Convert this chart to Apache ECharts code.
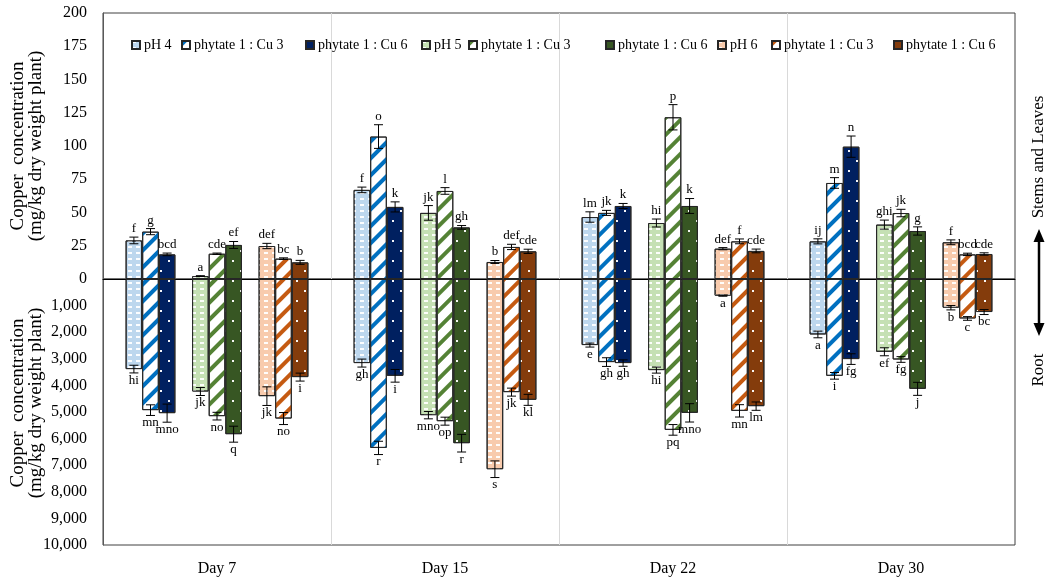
<!DOCTYPE html>
<html>
<head>
<meta charset="utf-8">
<script src="https://cdn.jsdelivr.net/npm/echarts@6/dist/echarts.min.js"></script>
<style>
  html, body { margin: 0; padding: 0; background: #fff; }
  #chart { width: 1049px; height: 584px; }
</style>
</head>
<body>
<div id="chart"></div>
<script>
// ---- data -------------------------------------------------------------
const days = ['Day 7', 'Day 15', 'Day 22', 'Day 30'];
const treatments = ['pH 4', 'phytate 1 : Cu 3', 'phytate 1 : Cu 6',
                    'pH 5', 'phytate 1 : Cu 3', 'phytate 1 : Cu 6',
                    'pH 6', 'phytate 1 : Cu 3', 'phytate 1 : Cu 6'];
const phGroups = ['pH 4', 'pH 4', 'pH 4', 'pH 5', 'pH 5', 'pH 5', 'pH 6', 'pH 6', 'pH 6'];

// Stems and leaves, mg/kg dry weight plant (rows: treatments, columns: days)
const shootMean = [
  [29.0, 67.0, 46.6, 28.3],
  [35.6, 107.1, 49.7, 72.2],
  [18.5, 54.2, 54.9, 99.5],
  [2.2, 49.7, 42.1, 40.9],
  [19.0, 66.2, 121.6, 49.6],
  [25.6, 38.8, 54.9, 36.1],
  [24.8, 12.8, 22.8, 27.6],
  [15.3, 24.1, 28.3, 18.5],
  [12.5, 20.8, 21.1, 18.8]
];
const shootSd = [
  [2.5, 2.1, 3.9, 1.9],
  [2.3, 8.9, 1.9, 4.0],
  [1.0, 3.8, 1.9, 8.0],
  [0.3, 5.5, 3.0, 3.4],
  [0.5, 2.5, 9.5, 2.8],
  [2.6, 1.4, 5.6, 3.1],
  [2.0, 1.1, 0.8, 1.8],
  [0.6, 2.0, 1.8, 0.9],
  [1.5, 1.6, 1.4, 0.9]
];
const shootLetters = [
  ['f', 'f', 'lm', 'ij'],
  ['g', 'o', 'jk', 'm'],
  ['bcd', 'k', 'k', 'n'],
  ['a', 'jk', 'hi', 'ghi'],
  ['cde', 'l', 'p', 'jk'],
  ['ef', 'gh', 'k', 'g'],
  ['def', 'b', 'def', 'f'],
  ['bc', 'def', 'f', 'bcd'],
  ['b', 'cde', 'cde', 'cde']
];

// Root, mg/kg dry weight plant
const rootMean = [
  [3387, 3161, 2484, 2085],
  [4930, 6350, 3124, 3640],
  [5043, 3640, 3161, 3011],
  [4230, 5119, 3425, 2736],
  [5156, 5345, 5672, 3026],
  [5834, 6172, 5032, 4129],
  [4404, 7151, 628, 1080],
  [5246, 4253, 4957, 1483],
  [3688, 4543, 4780, 1242]
];
const rootSd = [
  [144, 150, 75, 125],
  [200, 250, 163, 125],
  [340, 238, 120, 200],
  [150, 138, 113, 150],
  [144, 150, 200, 107],
  [300, 332, 345, 245],
  [350, 313, 20, 82],
  [226, 150, 232, 69],
  [150, 207, 157, 94]
];
const rootLetters = [
  ['hi', 'gh', 'e', 'a'],
  ['mn', 'r', 'gh', 'i'],
  ['mno', 'i', 'gh', 'fg'],
  ['jk', 'mno', 'hi', 'ef'],
  ['no', 'op', 'pq', 'fg'],
  ['q', 'r', 'mno', 'j'],
  ['jk', 's', 'a', 'b'],
  ['no', 'jk', 'mn', 'c'],
  ['i', 'kl', 'lm', 'bc']
];

// ---- layout & style ---------------------------------------------------
const W = 1049, H = 584;
const GRID_L = 103, GRID_R = 34, TOP = 13, MID = 279, BOT = 545;
const DAY_PX = (W - GRID_L - GRID_R) / days.length;
const BAR_W = 16.6;
const CLUSTER_PX = 66.5;
const FONT = '"Liberation Serif", "Times New Roman", serif';

const legendLeft = [126, 176, 300, 416, 463, 600, 712, 766, 888];

const lightDots = {
  symbol: 'rect', symbolSize: 1, color: 'rgba(255,255,255,0.95)',
  dashArrayX: [4, 4], dashArrayY: [2, 4]
};
const darkDots = {
  symbol: 'rect', symbolSize: 1, color: 'rgba(255,255,255,0.95)',
  dashArrayX: [[2, 14], [0, 8, 2, 6]], dashArrayY: [2, 8]
};
const stripes = c => ({
  symbol: 'rect', symbolSize: 1, color: c,
  dashArrayX: [1, 0], dashArrayY: [3.5, 8], rotation: -Math.PI / 4
});
const barStyles = [
  { color: '#BDD7EE', decal: lightDots },
  { color: '#FFFFFF', decal: stripes('#0070C0') },
  { color: '#002060', decal: darkDots },
  { color: '#C5E0B4', decal: lightDots },
  { color: '#FFFFFF', decal: stripes('#548235') },
  { color: '#375623', decal: darkDots },
  { color: '#F8CBAD', decal: lightDots },
  { color: '#FFFFFF', decal: stripes('#C55A11') },
  { color: '#843C0C', decal: darkDots }
];

const seriesKey = i => (i % 3 === 0 ? treatments[i] : phGroups[i] + ' \u00b7 ' + treatments[i]);
const keyToLabel = {};
treatments.forEach((t, i) => { keyToLabel[seriesKey(i)] = t; });

// x position of treatment t on day d (value axis: day d spans [d, d+1])
function xPos(t, d) {
  const cluster = Math.floor(t / 3) - 1;
  const slot = (t % 3) - 1;
  return d + 0.5 + (cluster * CLUSTER_PX + slot * BAR_W) / DAY_PX;
}

function barSeries(meanRows, gridIdx) {
  return meanRows.map((row, t) => ({
    name: seriesKey(t),
    type: 'bar',
    xAxisIndex: gridIdx,
    yAxisIndex: gridIdx,
    barWidth: BAR_W,
    barGap: '-100%',
    itemStyle: Object.assign({ borderColor: '#262626', borderWidth: 1 }, barStyles[t]),
    emphasis: { disabled: true },
    data: row.map((v, d) => [xPos(t, d), v]),
    z: 2
  }));
}

function errorSeries(meanRows, sdRows, letterRows, gridIdx, below) {
  const data = [];
  meanRows.forEach((row, t) => row.forEach((v, d) => data.push([xPos(t, d), v, sdRows[t][d], t, d])));
  return {
    type: 'custom',
    xAxisIndex: gridIdx,
    yAxisIndex: gridIdx,
    silent: true,
    z: 5,
    data: data,
    renderItem: function (params, api) {
      const x = api.value(0), m = api.value(1), s = api.value(2);
      const t = api.value(3), d = api.value(4);
      const lo = api.coord([x, Math.max(m - s, 0)]);
      const hi = api.coord([x, m + s]);
      const cap = 4.5;
      const ls = { stroke: '#000', lineWidth: 1 };
      return {
        type: 'group',
        children: [
          { type: 'line', shape: { x1: lo[0], y1: lo[1], x2: hi[0], y2: hi[1] }, style: ls },
          { type: 'line', shape: { x1: lo[0] - cap, y1: lo[1], x2: lo[0] + cap, y2: lo[1] }, style: ls },
          { type: 'line', shape: { x1: hi[0] - cap, y1: hi[1], x2: hi[0] + cap, y2: hi[1] }, style: ls },
          {
            type: 'text',
            x: hi[0], y: below ? hi[1] + 1 : hi[1] - 2,
            style: {
              text: letterRows[t][d], align: 'center',
              verticalAlign: below ? 'top' : 'bottom',
              fontFamily: FONT, fontSize: 13, fill: '#000'
            }
          }
        ]
      };
    }
  };
}

const splitLineStyle = {
  show: true, showMinLine: false, showMaxLine: false,
  lineStyle: { color: '#D9D9D9', width: 1 }
};
const tickText = { fontFamily: FONT, fontSize: 16, color: '#000', margin: 16 };

const option = {
  animation: false,
  backgroundColor: '#fff',
  grid: [
    { left: GRID_L, right: GRID_R, top: TOP, height: MID - TOP, show: true, borderColor: '#404040', borderWidth: 1 },
    { left: GRID_L, right: GRID_R, top: MID, height: BOT - MID, show: true, borderColor: '#404040', borderWidth: 1 }
  ],
  xAxis: [
    {
      type: 'value', gridIndex: 0, min: 0, max: days.length, interval: 1,
      axisLine: { show: true, lineStyle: { color: '#000', width: 1 } },
      axisTick: { show: false }, axisLabel: { show: false }, splitLine: splitLineStyle
    },
    {
      type: 'value', gridIndex: 1, position: 'top', min: 0, max: days.length, interval: 1,
      axisLine: { show: false }, axisTick: { show: false }, axisLabel: { show: false },
      splitLine: splitLineStyle
    },
    {
      type: 'category', gridIndex: 1, position: 'bottom', data: days,
      axisLine: { show: false, onZero: false }, axisTick: { show: false },
      axisLabel: { fontFamily: FONT, fontSize: 16, color: '#000', margin: 16 },
      splitLine: { show: false }
    }
  ],
  yAxis: [
    {
      type: 'value', gridIndex: 0, min: 0, max: 200, interval: 25,
      axisLine: { show: true, lineStyle: { color: '#595959' } },
      axisTick: { show: false }, splitLine: { show: false },
      axisLabel: tickText
    },
    {
      type: 'value', gridIndex: 1, min: 0, max: 10000, interval: 1000, inverse: true,
      axisLine: { show: true, lineStyle: { color: '#595959' } },
      axisTick: { show: false }, splitLine: { show: false },
      axisLabel: Object.assign({ showMinLabel: false, formatter: v => v.toLocaleString('en-US') }, tickText)
    }
  ],
  legend: treatments.map((t, i) => ({
    data: [seriesKey(i)],
    left: legendLeft[i], top: 33,
    icon: 'rect', itemWidth: 8, itemHeight: 8, itemGap: 4,
    selectedMode: false,
    formatter: name => keyToLabel[name],
    textStyle: { fontFamily: FONT, fontSize: 14, color: '#000', padding: [0, 0, 0, -1] }
  })),
  graphic: [
    {
      type: 'text', x: 27, y: 146, rotation: Math.PI / 2,
      style: { text: 'Copper  concentration\n(mg/kg dry weight plant)', align: 'center', verticalAlign: 'middle',
               fontFamily: FONT, fontSize: 19, lineHeight: 18, fill: '#000' }
    },
    {
      type: 'text', x: 27, y: 403, rotation: Math.PI / 2,
      style: { text: 'Copper  concentration\n(mg/kg dry weight plant)', align: 'center', verticalAlign: 'middle',
               fontFamily: FONT, fontSize: 19, lineHeight: 18, fill: '#000' }
    },
    {
      type: 'text', x: 1039, y: 157, rotation: Math.PI / 2,
      style: { text: 'Stems and Leaves', align: 'center', verticalAlign: 'middle',
               fontFamily: FONT, fontSize: 17, fill: '#000' }
    },
    {
      type: 'text', x: 1039, y: 370, rotation: Math.PI / 2,
      style: { text: 'Root', align: 'center', verticalAlign: 'middle',
               fontFamily: FONT, fontSize: 17, fill: '#000' }
    },
    { type: 'line', shape: { x1: 1039, y1: 238, x2: 1039, y2: 327 }, style: { stroke: '#000', lineWidth: 2.5 } },
    { type: 'polygon', shape: { points: [[1039, 229], [1033.5, 242], [1044.5, 242]] }, style: { fill: '#000' } },
    { type: 'polygon', shape: { points: [[1039, 336], [1033.5, 323], [1044.5, 323]] }, style: { fill: '#000' } }
  ],
  series: [].concat(
    barSeries(shootMean, 0),
    barSeries(rootMean, 1),
    [errorSeries(shootMean, shootSd, shootLetters, 0, false),
     errorSeries(rootMean, rootSd, rootLetters, 1, true)]
  )
};

const chart = echarts.init(document.getElementById('chart'), null, { renderer: 'canvas' });
chart.setOption(option);
</script>
</body>
</html>
